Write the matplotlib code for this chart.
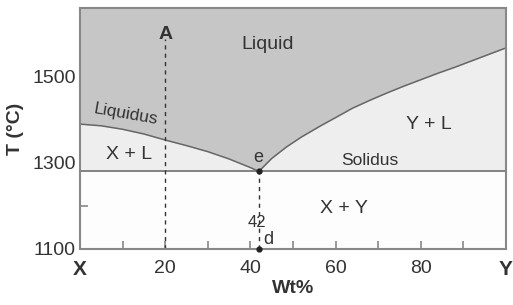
import matplotlib

matplotlib.use("Agg")
import matplotlib.pyplot as plt  # noqa: E402
import numpy as np  # noqa: E402

plt.rcParams["font.family"] = ["Liberation Sans", "DejaVu Sans"]

# liquidus branches (wt% of Y, temperature in C)
left_x = [0, 5, 10, 15, 20, 25, 30, 35, 38, 40, 42]
left_t = [1390, 1386, 1378, 1367, 1353, 1340, 1326, 1309, 1297, 1289, 1280]
right_x = [42, 45, 48.5, 52, 56.5, 60, 64, 68, 72, 76, 80, 84, 88, 92, 96, 100]
right_t = [1280, 1310, 1337, 1360, 1386, 1405, 1427, 1445, 1462, 1478, 1493,
           1508, 1522, 1537, 1552, 1567]

eutectic_x = 42
solidus_t = 1280
bulk_a = 20

x_ticks = [0, 20, 40, 60, 80, 100]
x_labels = ["X", "20", "40", "60", "80", "Y"]
x_minor = [10, 20, 30, 40, 50, 60, 70, 80, 90]
y_ticks = [1100, 1300, 1500]
xmin, xmax = 0, 100
ymin, ymax = 1100, 1660

text_c = "#333333"
dark = "#c6c6c6"
light = "#eeeeee"
line_c = "#666666"

fig = plt.figure(figsize=(5.13, 3.05), dpi=100)
ax = fig.add_axes([0.156, 0.184, 0.83, 0.79])

lx = np.array(left_x + right_x[1:])
lt = np.array(left_t + right_t[1:])

ax.fill_between([xmin, xmax], ymin, solidus_t, color="#fdfdfd", lw=0)
ax.fill_between(lx, solidus_t, lt, color=light, lw=0)
ax.fill_between(lx, lt, ymax, color=dark, lw=0)
ax.plot(lx, lt, color=line_c, lw=1.1)
ax.axhline(solidus_t, color=line_c, lw=1.1)

ax.plot([bulk_a, bulk_a], [ymin, 1588], ls=(0, (3, 3)), color="#333333", lw=1)
ax.plot([eutectic_x, eutectic_x], [ymin, solidus_t], ls=(0, (3, 3)),
        color="#333333", lw=1)
ax.plot([eutectic_x, eutectic_x], [solidus_t, ymin], "o", color="#222222",
        ms=3.5, clip_on=False, zorder=5)

ax.text(bulk_a, 1598, "A", fontsize=14, fontweight="bold", color=text_c,
        ha="center", va="center")
ax.text(44, 1574, "Liquid", fontsize=14, color=text_c, ha="center", va="center")
ax.text(82, 1388, "Y + L", fontsize=14, color=text_c, ha="center", va="center")
ax.text(11.5, 1319, "X + L", fontsize=14, color=text_c, ha="center", va="center")
ax.text(62, 1195, "X + Y", fontsize=14, color=text_c, ha="center", va="center")
ax.text(10.8, 1413, "Liquidus", fontsize=12.5, color=text_c, ha="center",
        va="center", rotation=-10)
ax.text(68, 1305, "Solidus", fontsize=12.5, color=text_c, ha="center", va="center")
ax.text(41.8, 1313, "e", fontsize=13, color=text_c, ha="center", va="center")
ax.text(41.6, 1162, "42", fontsize=12, color=text_c, ha="center", va="center")
ax.text(44.3, 1121, "d", fontsize=13, color=text_c, ha="center", va="center")

ax.set_xlim(xmin, xmax)
ax.set_ylim(ymin, ymax)
ax.set_xticks(x_ticks)
ax.set_xticklabels(x_labels)
ax.xaxis.remove_overlapping_locs = False
ax.set_xticks(x_minor, minor=True)
ax.set_yticks(y_ticks)
ax.set_yticks([1200], minor=True)
ax.tick_params(axis="both", which="both", direction="in",
               width=1.2, color="#888888", labelsize=14, labelcolor=text_c, pad=3)
ax.xaxis.set_tick_params(which="major", length=0, pad=8)
ax.xaxis.set_tick_params(which="minor", length=6)
ax.yaxis.set_tick_params(which="major", length=0)
ax.yaxis.set_tick_params(which="minor", length=6)
for lab in ax.get_xticklabels():
    if lab.get_text() in ("X", "Y"):
        lab.set_fontweight("bold")
        lab.set_fontsize(15)

for s in ax.spines.values():
    s.set_color("#888888")
    s.set_linewidth(1.5)

ax.set_xlabel("Wt%", fontsize=14, fontweight="bold", color=text_c, labelpad=1)
ax.set_ylabel("T (°C)", fontsize=14, fontweight="bold", color=text_c, labelpad=6)

fig.savefig("out.png")
plt.close(fig)
